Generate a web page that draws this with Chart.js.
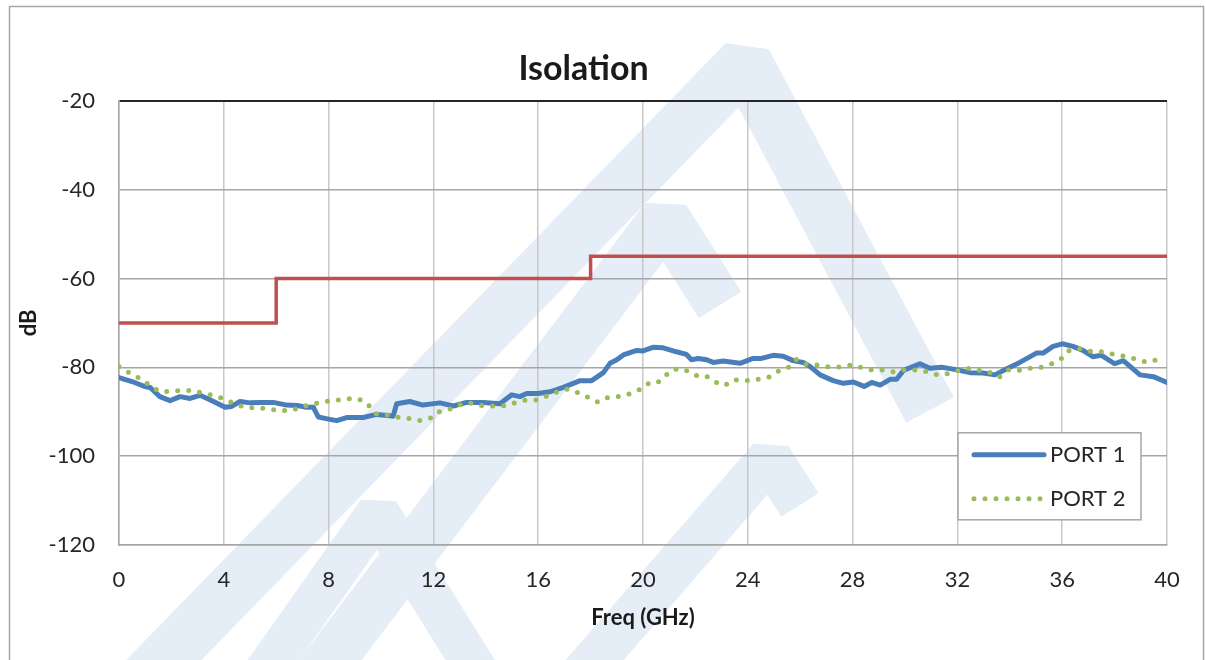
<!DOCTYPE html>
<html lang="en">
<head>
    <meta charset="utf-8" />
    <title>Isolation</title>
    <script src="https://cdn.jsdelivr.net/npm/chart.js"></script>
    <style>
        body { margin: 0; background: #fff; }
    </style>
</head>
<body>
    <canvas id="isoChart" width="1206" height="660"></canvas>
    <script>
        // PORT 1 (solid blue)
        const port1Freq = [0, 0.5, 0.93, 1.2, 1.56, 1.95, 2.33, 2.71, 3.09, 3.47, 4.05, 4.3, 4.62, 5.0, 5.38, 5.89, 6.4, 6.8, 7.16, 7.42, 7.61, 7.95, 8.31, 8.69, 9.32, 9.83, 10.34, 10.46, 10.6, 11.1, 11.6, 12.25, 12.76, 13.27, 13.9, 14.54, 14.99, 15.3, 15.56, 16.0, 16.45, 16.96, 17.6, 18.04, 18.49, 18.74, 19.0, 19.25, 19.76, 20.0, 20.38, 20.77, 21.28, 21.66, 21.85, 22.11, 22.43, 22.68, 23.06, 23.7, 24.2, 24.52, 24.97, 25.35, 25.73, 26.11, 26.37, 26.76, 27.26, 27.64, 28.03, 28.44, 28.73, 29.05, 29.43, 29.68, 29.94, 30.57, 30.95, 31.4, 31.84, 32.48, 32.98, 33.43, 33.87, 34.38, 35.02, 35.27, 35.65, 36.0, 36.41, 36.79, 37.17, 37.5, 38.0, 38.33, 38.97, 39.48, 40.0];
        const port1 = [-82.3, -83.2, -84.2, -84.6, -86.6, -87.5, -86.6, -87.0, -86.3, -87.3, -89.0, -88.8, -87.7, -88.0, -87.9, -87.9, -88.5, -88.6, -89.0, -89.0, -91.2, -91.6, -92.0, -91.3, -91.3, -90.6, -90.9, -91.0, -88.2, -87.7, -88.5, -88.0, -88.7, -87.9, -87.9, -88.2, -86.2, -86.6, -85.9, -85.9, -85.5, -84.5, -83.0, -83.0, -81.2, -79.1, -78.3, -77.2, -76.2, -76.3, -75.5, -75.6, -76.5, -77.1, -78.3, -78.0, -78.3, -78.9, -78.6, -79.1, -78.0, -78.0, -77.3, -77.5, -78.5, -78.9, -79.8, -81.7, -83.0, -83.6, -83.3, -84.3, -83.4, -84.0, -82.7, -82.7, -80.7, -79.2, -80.2, -80.0, -80.4, -81.2, -81.3, -81.7, -80.4, -78.9, -76.8, -76.8, -75.3, -74.7, -75.3, -76.2, -77.6, -77.3, -79.2, -78.5, -81.7, -82.1, -83.4];

        // PORT 2 (dotted green)
        const port2Freq = [0, 0.42, 0.83, 1.18, 1.56, 1.95, 2.37, 2.84, 3.26, 3.68, 4.11, 4.49, 4.91, 5.34, 5.76, 6.21, 6.63, 7.03, 7.47, 7.9, 8.31, 8.73, 9.14, 9.48, 9.78, 10.19, 10.6, 11.03, 11.46, 11.9, 12.22, 12.63, 12.95, 13.36, 13.78, 14.2, 14.63, 15.05, 15.5, 15.9, 16.32, 16.73, 17.11, 17.47, 17.89, 18.27, 18.65, 19.03, 19.41, 19.82, 20.17, 20.53, 20.84, 21.18, 21.58, 21.98, 22.4, 22.76, 23.11, 23.48, 23.92, 24.36, 24.78, 25.16, 25.54, 25.86, 26.22, 26.65, 27.07, 27.49, 27.91, 28.33, 28.75, 29.15, 29.55, 29.97, 30.41, 30.83, 31.23, 31.65, 32.07, 32.49, 32.86, 33.22, 33.6, 33.94, 34.33, 34.75, 35.18, 35.6, 35.98, 36.27, 36.68, 37.06, 37.44, 37.89, 38.3, 38.78, 39.2, 39.63];
        const port2 = [-79.8, -81.3, -82.6, -84.1, -85.5, -85.4, -85.2, -85.2, -85.9, -86.4, -87.4, -88.4, -89.1, -89.1, -89.4, -89.8, -89.6, -88.8, -88.2, -87.7, -87.4, -87.1, -87.1, -88.2, -90.4, -90.7, -91.2, -91.5, -92.0, -91.4, -90.0, -89.4, -88.5, -88.0, -88.6, -88.7, -88.7, -88.1, -87.4, -87.4, -86.5, -85.5, -84.9, -85.6, -86.7, -87.8, -86.8, -86.6, -86.1, -85.2, -83.7, -83.6, -81.9, -80.4, -80.5, -81.8, -81.9, -83.3, -84.1, -82.8, -83.0, -82.7, -82.3, -80.9, -80.1, -78.2, -79.3, -79.5, -79.9, -79.9, -79.5, -80.0, -80.6, -80.6, -81.0, -80.6, -80.6, -81.0, -81.7, -81.4, -80.7, -80.2, -80.7, -81.1, -82.2, -80.6, -80.7, -80.2, -80.0, -79.2, -78.0, -76.2, -75.8, -76.4, -76.4, -77.0, -77.4, -78.1, -78.8, -78.3];

        // spec limit (red step line)
        const specFreq = [0, 6, 6, 18, 18, 40];
        const specLimit = [-70, -70, -60, -60, -55, -55];

        const xTicks = [0, 4, 8, 12, 16, 20, 24, 28, 32, 36, 40];
        const yTicks = [-20, -40, -60, -80, -100, -120];

        const toPts = (xs, ys) => xs.map((x, i) => ({ x: x, y: ys[i] }));

        const FONT = 'Lato, "Open Sans", sans-serif';

        // faint logo watermark behind the chart (rough)
        const watermark = [
            { w: 54, pts: [[125, 700], [745, 62], [930, 410]] },
            { w: 50, pts: [[300, 700], [665, 218], [720, 305]] },
            { w: 42, pts: [[245, 700], [378, 512], [495, 700]] },
            { w: 44, pts: [[560, 700], [770, 458], [800, 505]] }
        ];

        // white page, watermark, outer frame
        const framePlugin = {
            id: 'frame',
            beforeDraw(chart) {
                const c = chart.ctx;
                c.save();
                c.fillStyle = '#ffffff';
                c.fillRect(0, 0, chart.width, chart.height);
                c.strokeStyle = '#e5edf6';
                c.lineJoin = 'bevel';
                c.lineCap = 'butt';
                watermark.forEach(b => {
                    c.lineWidth = b.w;
                    c.beginPath();
                    b.pts.forEach((p, i) => i ? c.lineTo(p[0], p[1]) : c.moveTo(p[0], p[1]));
                    c.stroke();
                });
                c.strokeStyle = '#a6a6a6';
                c.lineWidth = 1.5;
                c.strokeRect(9.5, 6.5, 1194, 700);
                c.restore();
            }
        };

        // legend box inside the plot area
        const legendPlugin = {
            id: 'boxLegend',
            afterDraw(chart) {
                const c = chart.ctx;
                const a = chart.chartArea;
                const bx = a.right - 209, by = a.top + 332, bw = 183, bh = 87;
                c.save();
                c.fillStyle = '#ffffff';
                c.fillRect(bx, by, bw, bh);
                c.strokeStyle = '#a6a6a6';
                c.lineWidth = 1.5;
                c.strokeRect(bx, by, bw, bh);
                const items = [chart.data.datasets[0], chart.data.datasets[1]];
                items.forEach((ds, i) => {
                    const y = by + 22 + i * 44;
                    c.beginPath();
                    c.strokeStyle = ds.borderColor;
                    c.lineWidth = ds.borderWidth;
                    c.lineCap = 'round';
                    c.setLineDash(ds.borderDash || []);
                    c.moveTo(bx + 16, y);
                    c.lineTo(bx + 86, y);
                    c.stroke();
                    c.setLineDash([]);
                    c.fillStyle = '#262626';
                    c.font = '22px ' + FONT;
                    c.textBaseline = 'middle';
                    c.fillText(ds.label, bx + 92, y);
                });
                c.restore();
            }
        };

        new Chart(document.getElementById('isoChart'), {
            type: 'scatter',
            data: {
                datasets: [
                    {
                        label: 'PORT 1',
                        data: toPts(port1Freq, port1),
                        showLine: true,
                        borderColor: '#4a7ebb',
                        borderWidth: 5,
                        borderCapStyle: 'round',
                        borderJoinStyle: 'round',
                        pointRadius: 0,
                        order: 1
                    },
                    {
                        label: 'PORT 2',
                        data: toPts(port2Freq, port2),
                        showLine: true,
                        borderColor: '#9bbb59',
                        borderWidth: 5,
                        borderDash: [0, 11],
                        borderCapStyle: 'round',
                        pointRadius: 0,
                        order: 0
                    },
                    {
                        label: 'Spec',
                        data: toPts(specFreq, specLimit),
                        showLine: true,
                        borderColor: '#c0504d',
                        borderWidth: 3.5,
                        borderJoinStyle: 'miter',
                        pointRadius: 0,
                        order: 2
                    }
                ]
            },
            options: {
                responsive: false,
                animation: false,
                layout: { padding: { left: 0, right: 39, top: 0, bottom: 0 } },
                plugins: {
                    legend: { display: false },
                    tooltip: { enabled: false },
                    title: {
                        display: true,
                        text: 'Isolation',
                        color: '#1a1a1a',
                        font: { family: FONT, size: 34, weight: 'bold' },
                        padding: { top: 49, bottom: 11 }
                    }
                },
                scales: {
                    x: {
                        type: 'linear',
                        min: 0,
                        max: 40,
                        afterFit(scale) { scale.height = 115; },
                        afterBuildTicks(scale) { scale.ticks = xTicks.map(v => ({ value: v })); },
                        ticks: {
                            color: '#262626',
                            font: { family: FONT, size: 22 },
                            padding: 22
                        },
                        grid: { color: '#c8c8c8', lineWidth: 1.5, drawTicks: false },
                        border: { color: '#a6a6a6', width: 1.5 },
                        title: {
                            display: true,
                            text: 'Freq (GHz)',
                            color: '#1a1a1a',
                            font: { family: FONT, size: 22, weight: 'bold' },
                            padding: { top: 0, bottom: 29 }
                        }
                    },
                    y: {
                        type: 'linear',
                        min: -120,
                        max: -20,
                        afterFit(scale) { scale.width = 119; },
                        afterBuildTicks(scale) { scale.ticks = yTicks.map(v => ({ value: v })); },
                        ticks: {
                            color: '#262626',
                            font: { family: FONT, size: 22 },
                            padding: 24
                        },
                        grid: {
                            color: (ctx) => ctx.tick && ctx.tick.value === -20 ? '#262626' : '#a6a6a6',
                            lineWidth: (ctx) => ctx.tick && ctx.tick.value === -20 ? 2 : 1.5,
                            drawTicks: false
                        },
                        border: { color: '#a6a6a6', width: 1.5 },
                        title: {
                            display: true,
                            text: 'dB',
                            color: '#1a1a1a',
                            font: { family: FONT, size: 22, weight: 'bold' },
                            padding: { top: 16, bottom: 0 }
                        }
                    }
                }
            },
            plugins: [framePlugin, legendPlugin]
        });
    </script>
</body>
</html>
